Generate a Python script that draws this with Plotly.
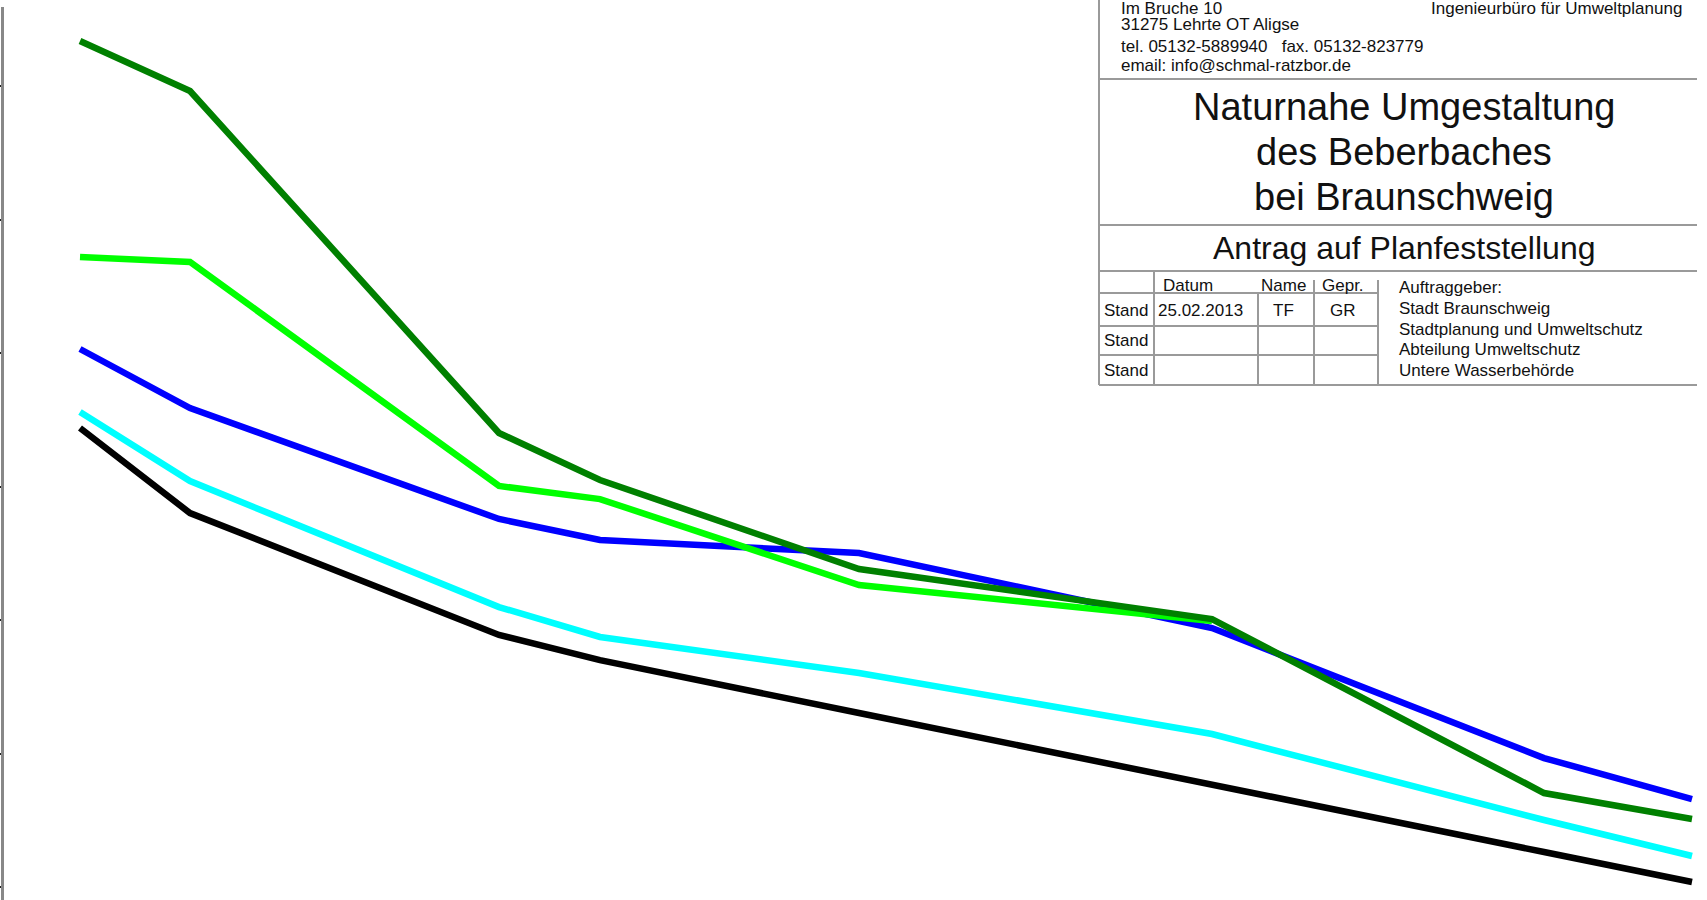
import plotly.graph_objects as go

# ---- data (y axis unlabelled, ticks every 1 unit) ----
stations = [0, 110, 419, 520, 779, 1132, 1464, 1612]

dark_green = [6.337, 5.963, 3.401, 3.049, 2.382, 2.007, 0.704, 0.509]
light_green = [4.719, 4.682, 3.004, 2.906, 2.262, 1.993]
blue = [4.030, 3.588, 2.757, 2.599, 2.502, 1.940, 0.966, 0.659]
cyan = [3.558, 3.041, 2.097, 1.873, 1.603, 1.146, 0.502, 0.232]
black = [3.438, 2.801, 1.888, 1.700, 1.303, 0.772, 0.262, 0.037]

y_ticks = [0, 1, 2, 3, 4, 5, 6]

address_lines = [
    "Im Bruche 10",
    "31275 Lehrte OT Aligse",
    "tel. 05132-5889940\u00a0\u00a0\u00a0fax. 05132-823779",
    "email: info@schmal-ratzbor.de",
]
company = "Ingenieurbüro für Umweltplanung"
title_lines = ["Naturnahe Umgestaltung", "des Beberbaches", "bei Braunschweig"]
subtitle = "Antrag auf Planfeststellung"
table_header = ["Datum", "Name", "Gepr."]
table_rows = [["Stand", "25.02.2013", "TF", "GR"], ["Stand", "", "", ""], ["Stand", "", "", ""]]
client_lines = ["Auftraggeber:", "Stadt Braunschweig", "Stadtplanung und Umweltschutz",
                "Abteilung Umweltschutz", "Untere Wasserbehörde"]

# ---- layout constants ----
W_FIG, H_FIG = 1707, 900
L, T = 4, 7
PW, PH = W_FIG - L, H_FIG - T


def px(x):
    return (x - L) / PW


def py(y):
    return 1 - (y - T) / PH


FONT = "Liberation Sans, Arial, sans-serif"
LINE_W = 6.5

fig = go.Figure()
series = [
    ("black", black, "#000000"),
    ("cyan", cyan, "#00ffff"),
    ("blue", blue, "#0000ff"),
    ("light green", light_green, "#00ff00"),
    ("dark green", dark_green, "#008000"),
]
for name, vals, col in series:
    fig.add_trace(go.Scatter(
        x=stations[:len(vals)], y=vals, mode="lines", name=name,
        line=dict(color=col, width=LINE_W), showlegend=False, hoverinfo="skip"))

annotations = []


def text(s, x, y, size, anchor="left"):
    annotations.append(dict(text=s, x=px(x), y=py(y), xref="paper", yref="paper",
                            xanchor=anchor, yanchor="middle", showarrow=False,
                            font=dict(family=FONT, size=size, color="#111111")))


# address block
addr_y = [9, 25, 46, 66]
for s, y in zip(address_lines, addr_y):
    text(s, 1119, y, 17)
text(company, 1684, 9, 17, anchor="right")

# title
for s, y in zip(title_lines, [107, 152, 197]):
    text(s, 1404, y, 38, anchor="center")
text(subtitle, 1404, 248, 32, anchor="center")

# table
for s, x in zip(table_header, [1188, 1283, 1343]):
    text(s, x, 285, 17, anchor="center")
row_y = [310, 341, 370]
for row, y in zip(table_rows, row_y):
    text(row[0], 1102, y, 17)
    for s, x in zip(row[1:], [1200, 1283, 1343]):
        if s:
            text(s, x, y, 17, anchor="center")
for s, y in zip(client_lines, [287, 308, 329, 349, 370]):
    text(s, 1397, y, 17)

shapes = []
GREY = "#9a9a9a"


def hline(x0, x1, y):
    shapes.append(dict(type="line", xref="paper", yref="paper", x0=px(x0), x1=px(x1),
                       y0=py(y), y1=py(y), line=dict(color=GREY, width=2)))


def vline(x, y0, y1):
    shapes.append(dict(type="line", xref="paper", yref="paper", x0=px(x), x1=px(x),
                       y0=py(y0), y1=py(y1), line=dict(color=GREY, width=2)))


vline(1099, -5, 385)
hline(1099, 1697, 79)
hline(1099, 1697, 225)
hline(1099, 1697, 271)
hline(1099, 1378, 293)
hline(1099, 1378, 326)
hline(1099, 1378, 355)
hline(1099, 1697, 385)
vline(1154, 271, 385)
vline(1258, 293, 385)
vline(1314, 280, 385)
vline(1378, 280, 385)

fig.update_layout(
    width=W_FIG, height=H_FIG,
    margin=dict(l=L, r=0, t=T, b=0),
    paper_bgcolor="white", plot_bgcolor="white",
    xaxis=dict(visible=False, range=[-76, 1627]),
    yaxis=dict(range=[-0.0974, 6.592], showline=True, linecolor="#888888", linewidth=2.5,
               ticks="outside", ticklen=4, tickwidth=1.5, tickcolor="#222222",
               tickvals=y_ticks, showticklabels=False, showgrid=False, zeroline=False),
    annotations=annotations, shapes=shapes,
)

fig.write_html("out.html", config={"displayModeBar": False},
               post_script="document.body.style.margin='0';document.body.style.padding='0';")
